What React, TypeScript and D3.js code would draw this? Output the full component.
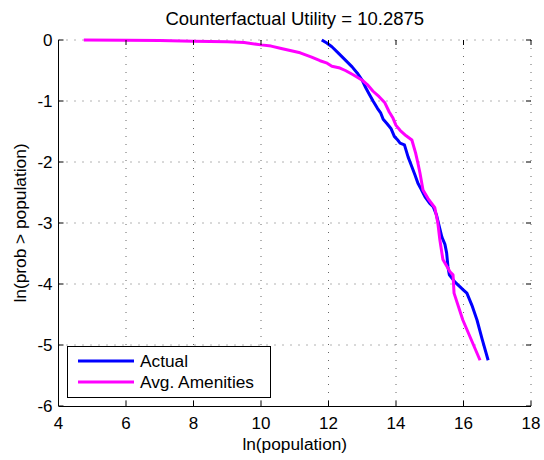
import React from "react";
import * as d3 from "d3";

const titleText = "Counterfactual Utility = 10.2875";
const xLabel = "ln(population)";
const yLabel = "ln(prob > population)";
const xTicks = [4, 6, 8, 10, 12, 14, 16, 18];
const yTicks = [0, -1, -2, -3, -4, -5, -6];
const seriesNames = ["Actual", "Avg. Amenities"];
const seriesColors = ["#0000ff", "#ff00ff"];

const actualX = [11.8, 11.95, 12.1, 12.3, 12.5, 12.7, 12.85, 13.0, 13.1, 13.2, 13.32, 13.45, 13.55, 13.62, 13.73, 13.85, 13.95, 14.05, 14.12, 14.25, 14.36, 14.45, 14.56, 14.65, 14.75, 14.86, 15.0, 15.1, 15.2, 15.28, 15.36, 15.45, 15.5, 15.54, 15.58, 15.75, 16.0, 16.1, 16.25, 16.4, 16.55, 16.73];
const actualY = [0.0, -0.05, -0.11, -0.22, -0.33, -0.44, -0.54, -0.66, -0.78, -0.88, -1.0, -1.12, -1.2, -1.3, -1.37, -1.45, -1.58, -1.64, -1.69, -1.72, -1.92, -2.05, -2.21, -2.35, -2.45, -2.57, -2.68, -2.73, -2.87, -3.05, -3.23, -3.35, -3.49, -3.72, -3.85, -3.97, -4.1, -4.15, -4.35, -4.59, -4.9, -5.25];

const amenX = [4.75, 6, 7, 8, 9, 9.5, 10.0, 10.3, 10.6, 11.16, 11.5, 11.75, 11.96, 12.1, 12.34, 12.5, 12.73, 13.0, 13.15, 13.32, 13.5, 13.67, 13.8, 13.91, 14.0, 14.12, 14.3, 14.47, 14.58, 14.65, 14.71, 14.8, 14.95, 15.15, 15.24, 15.3, 15.39, 15.6, 15.69, 15.72, 15.98, 16.49];
const amenY = [0, -0.005, -0.01, -0.02, -0.03, -0.04, -0.08, -0.1, -0.14, -0.21, -0.28, -0.34, -0.38, -0.43, -0.46, -0.5, -0.57, -0.66, -0.73, -0.84, -0.93, -1.03, -1.18, -1.28, -1.4, -1.48, -1.57, -1.64, -1.85, -2.02, -2.18, -2.46, -2.6, -2.75, -3.0, -3.28, -3.6, -3.8, -3.85, -4.15, -4.59, -5.25];

const W = 544, H = 460;
const L = 58.5, R = 531, T = 40, B = 406;
const FONT = "'Liberation Sans', Arial, Helvetica, sans-serif";

export default function App() {
  const x = d3.scaleLinear().domain([4, 18]).range([L, R]);
  const y = d3.scaleLinear().domain([-6, 0]).range([B, T]);
  const line = d3.line<[number, number]>().x(d => x(d[0])).y(d => y(d[1]));
  const series = [
    actualX.map((v, i) => [v, actualY[i]] as [number, number]),
    amenX.map((v, i) => [v, amenY[i]] as [number, number]),
  ];
  const tl = 5;
  return (
    <svg width={W} height={H} style={{ position: "absolute", left: 0, top: 0, background: "#fff" }} fontFamily={FONT}>
      <rect x={0} y={0} width={W} height={H} fill="#fff" />
      {/* grid */}
      {xTicks.slice(1, -1).map(t => (
        <line key={"gx" + t} x1={x(t)} x2={x(t)} y1={T} y2={B} stroke="#666" strokeWidth={1} strokeDasharray="1,7" />
      ))}
      {yTicks.slice(1, -1).map(t => (
        <line key={"gy" + t} x1={L} x2={R} y1={y(t)} y2={y(t)} stroke="#666" strokeWidth={1} strokeDasharray="1,7" />
      ))}
      <line x1={L} x2={R} y1={T} y2={T} stroke="#666" strokeWidth={1} strokeDasharray="1,7" />
      <line x1={R} x2={R} y1={T} y2={B} stroke="#666" strokeWidth={1} strokeDasharray="1,7" />
      {/* series */}
      {series.map((s, i) => (
        <path key={i} d={line(s) || ""} fill="none" stroke={seriesColors[i]} strokeWidth={3} strokeLinejoin="round" />
      ))}
      {/* axes */}
      <line x1={L} x2={R} y1={B + 0.5} y2={B + 0.5} stroke="#000" strokeWidth={1} />
      <line x1={L} x2={L} y1={T} y2={B} stroke="#000" strokeWidth={1} />
      {xTicks.map(t => (
        <g key={"xt" + t}>
          <line x1={x(t)} x2={x(t)} y1={B} y2={B - tl} stroke="#000" />
          <line x1={x(t)} x2={x(t)} y1={T} y2={T + tl} stroke="#000" />
          <text x={x(t)} y={429} textAnchor="middle" fontSize={17} fill="#000">{t}</text>
        </g>
      ))}
      {yTicks.map(t => (
        <g key={"yt" + t}>
          <line x1={L} x2={L + tl} y1={y(t)} y2={y(t)} stroke="#000" />
          <line x1={R} x2={R - tl} y1={y(t)} y2={y(t)} stroke="#000" />
          <text x={52.5} y={y(t) + 6} textAnchor="end" fontSize={17} fill="#000">{t}</text>
        </g>
      ))}
      {/* labels */}
      <text x={(L + R) / 2} y={25} textAnchor="middle" fontSize={18.5} fill="#000">{titleText}</text>
      <text x={(L + R) / 2} y={450} textAnchor="middle" fontSize={17.3} fill="#000">{xLabel}</text>
      <text transform={`translate(26,${(T + B) / 2}) rotate(-90)`} textAnchor="middle" fontSize={17.3} fill="#000">{yLabel}</text>
      {/* legend */}
      <rect x={67.5} y={346.5} width={203} height={51} fill="#fff" stroke="#000" strokeWidth={1} />
      {seriesNames.map((n, i) => (
        <g key={n}>
          <line x1={78} x2={134} y1={361 + i * 21} y2={361 + i * 21} stroke={seriesColors[i]} strokeWidth={3} />
          <text x={140} y={367 + i * 21} fontSize={17.3} fill="#000">{n}</text>
        </g>
      ))}
    </svg>
  );
}
